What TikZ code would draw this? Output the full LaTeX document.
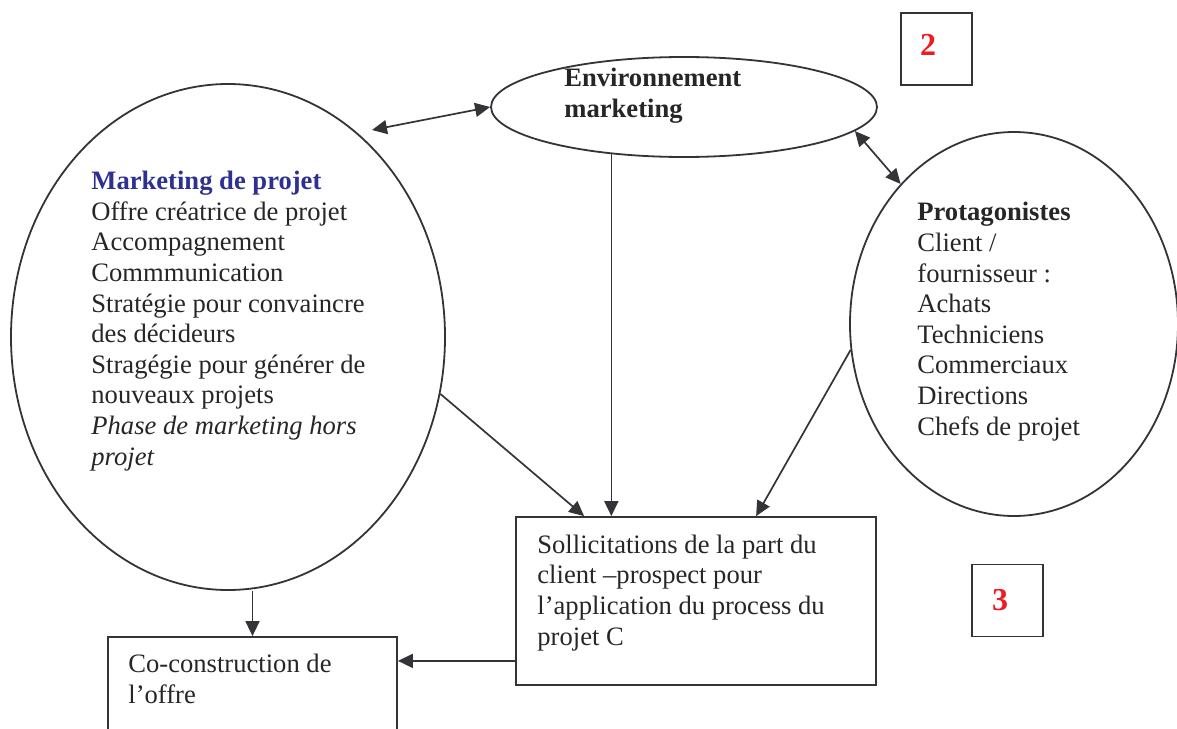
\documentclass[tikz,border=0pt]{standalone}
\usepackage{fontspec}
\setmainfont{Liberation Serif}
\usepackage{xcolor}
\usetikzlibrary{arrows.meta,positioning,calc,shapes.geometric}
\definecolor{inkgray}{RGB}{51,51,56}
\definecolor{titleblue}{RGB}{46,49,146}
\definecolor{numred}{RGB}{237,28,36}

\begin{document}
\begin{tikzpicture}[x=0.5pt, y=-0.5pt, >={Triangle[length=7.5pt,width=7pt]},
  every node/.style={inner sep=0pt},
  bubble/.style={draw=inkgray, line width=0.9pt, ellipse},
  panel/.style={draw=inkgray, line width=0.9pt, rectangle},
  lines/.style={anchor=base west, align=left, font=\fontsize{13.3}{15.3}\selectfont, text=black!85},
  tagbox/.style={panel, minimum width=35.5pt, minimum height=36pt},
  tagnum/.style={font=\fontsize{16}{16}\selectfont\bfseries, text=numred},
  link/.style={draw=inkgray, line width=0.85pt}]
  \useasboundingbox (0,0) rectangle (1177,728);
  % shapes
  \node[bubble, minimum width=193pt, minimum height=50pt](env) at (684,107) {};
  \node[bubble, minimum width=217pt, minimum height=253pt](mkt) at (228,337) {};
  \node[bubble, minimum width=164pt, minimum height=192pt](prot) at (1014,324) {};
  \node[panel, minimum width=180pt, minimum height=84pt](sol) at (696,601) {};
  \node[panel, minimum width=144.5pt, minimum height=60pt](coco) at (252.5,697) {};
  \node[tagbox](tag2) at (936.5,49) {};
  \node[tagbox](tag3) at (1007.5,600.5) {};
  % texts (placed at the baseline of their last line)
  \node[lines](envtext) at (564,117) {\textbf{Environnement}\\\textbf{marketing}};
  \node[lines](mkttext) at (91,465) {\textcolor{titleblue}{\textbf{Marketing de projet}}\\Offre créatrice de projet\\Accompagnement\\Commmunication\\Stratégie pour convaincre\\des décideurs\\Stragégie pour générer de\\nouveaux projets\\\textit{Phase de marketing hors}\\\textit{projet}};
  \node[lines](prottext) at (917,435) {\textbf{Protagonistes}\\Client /\\fournisseur :\\Achats\\Techniciens\\Commerciaux\\Directions\\Chefs de projet};
  \node[lines](soltext) at (537,645) {Sollicitations de la part du\\client –prospect pour\\l’application du process du\\projet C};
  \node[lines](cocotext) at (128,703) {Co-construction de\\l’offre};
  \node[tagnum](num2) at (928,45) {2};
  \node[tagnum](num3) at (1000,600) {3};
  % connectors
  \coordinate (hub) at (372,130);
  \draw[link,<->](hub)--(env.west);
  \draw[link,<->](env.-8)--(prot.129);
  \draw[link,->](env.213)--(env.213 |- sol.north);
  \draw[link,->](mkt.-15.5)--($(sol.north west)+(69,0)$);
  \draw[link,->](prot.189)--($(sol.north west)+(241,0)$);
  \draw[link,->](coco.north |- mkt.south)--(coco.north);
  \draw[link,->]($(sol.south west)+(0,-25)$) coordinate (solout)--(solout -| coco.east);
\end{tikzpicture}
\end{document}
